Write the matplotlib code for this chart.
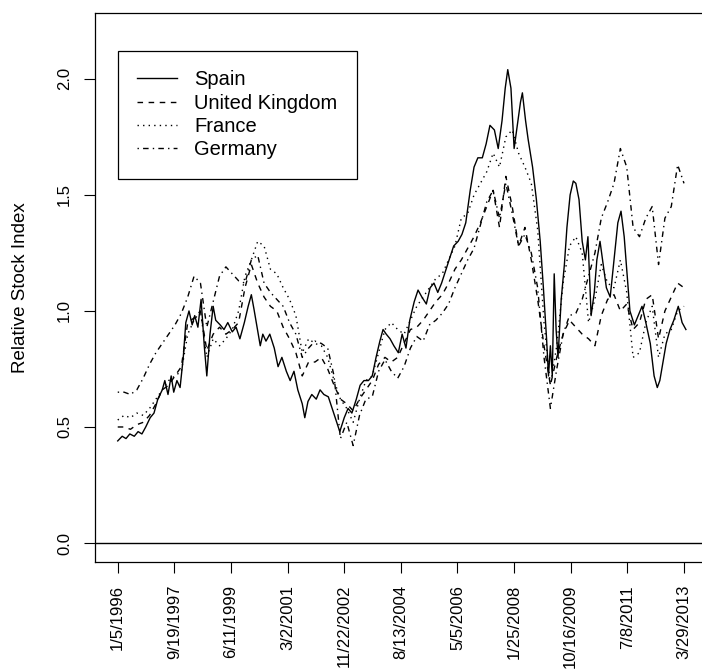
import numpy as np
import matplotlib.pyplot as plt

plt.rcParams['font.family'] = ['Liberation Sans', 'DejaVu Sans']

# week index (1 = week of 1/5/1996) used as the x axis
tick_weeks = [1, 90, 179, 268, 357, 446, 535, 624, 713, 802, 891]
tick_labels = ['1/5/1996', '9/19/1997', '6/11/1999', '3/2/2001', '11/22/2002',
               '8/13/2004', '5/5/2006', '1/25/2008', '10/16/2009', '7/8/2011',
               '3/29/2013']

# Spain, read at its turning points
spain_weeks = [1, 8, 14, 20, 27, 33, 39, 45, 52, 58, 64, 71, 75, 80, 85, 89, 94, 99,
               104, 108, 113, 118, 122, 127, 132, 137, 141, 146, 151, 155, 162, 168,
               174, 181, 187, 193, 200, 206, 211, 215, 220, 225, 229, 234, 240, 247,
               253, 259, 266, 272, 278, 284, 291, 295, 300, 306, 313, 319, 325, 332,
               338, 344, 350, 357, 363, 369, 376, 382, 388, 395, 401, 407, 413, 418,
               423, 429, 435, 442, 448, 454, 460, 467, 473, 479, 486, 492, 498, 504,
               510, 517, 523, 529, 536, 542, 548, 555, 561, 567, 574, 580, 586, 593,
               599, 605, 610, 614, 619, 624, 629, 634, 637, 642, 646, 653, 659, 665,
               670, 675, 678, 681, 684, 687, 690, 693, 698, 703, 707, 712, 717, 721,
               726, 731, 736, 740, 745, 750, 754, 759, 764, 769, 775, 781, 787, 792,
               797, 801, 806, 813, 819, 825, 831, 838, 844, 849, 853, 858, 863, 869,
               875, 882, 888, 894]
spain = [0.44, 0.46, 0.45, 0.47, 0.46, 0.48, 0.47, 0.50, 0.54, 0.56, 0.62, 0.66, 0.70,
         0.64, 0.72, 0.65, 0.70, 0.67, 0.80, 0.95, 1.00, 0.94, 0.98, 0.93, 1.05, 0.85,
         0.72, 0.90, 1.02, 0.96, 0.94, 0.92, 0.95, 0.91, 0.93, 0.88, 0.95, 1.02, 1.07,
         1.01, 0.93, 0.85, 0.90, 0.87, 0.90, 0.84, 0.76, 0.80, 0.74, 0.70, 0.74, 0.66,
         0.60, 0.54, 0.61, 0.64, 0.62, 0.66, 0.64, 0.63, 0.58, 0.53, 0.48, 0.54, 0.58,
         0.56, 0.62, 0.68, 0.70, 0.70, 0.72, 0.80, 0.87, 0.92, 0.90, 0.88, 0.85, 0.82,
         0.90, 0.84, 0.96, 1.04, 1.09, 1.06, 1.03, 1.10, 1.12, 1.08, 1.12, 1.18, 1.23,
         1.28, 1.30, 1.33, 1.38, 1.52, 1.62, 1.66, 1.66, 1.72, 1.80, 1.78, 1.70, 1.82,
         1.96, 2.04, 1.96, 1.70, 1.80, 1.90, 1.94, 1.82, 1.74, 1.62, 1.48, 1.30, 1.10,
         0.88, 0.72, 0.85, 0.72, 1.16, 0.92, 0.80, 1.05, 1.20, 1.36, 1.50, 1.56, 1.55,
         1.48, 1.30, 1.22, 1.32, 0.98, 1.08, 1.22, 1.30, 1.20, 1.10, 1.06, 1.22, 1.38,
         1.43, 1.32, 1.18, 1.00, 0.94, 0.98, 1.02, 0.95, 0.86, 0.72, 0.67, 0.70, 0.78,
         0.86, 0.92, 0.96, 1.02, 0.95, 0.92]

# the other three indices, every 10 weeks
weeks = np.arange(1, 892, 10)
uk = [0.50, 0.50, 0.49, 0.51, 0.52, 0.55, 0.60, 0.66, 0.68, 0.72, 0.76, 0.95, 0.97,
      1.00, 0.83, 0.90, 0.93, 0.90, 0.92, 0.95, 1.10, 1.20, 1.12, 1.06, 1.02, 1.00,
      0.93, 0.88, 0.82, 0.72, 0.78, 0.78, 0.80, 0.75, 0.68, 0.62, 0.60, 0.57, 0.62,
      0.66, 0.70, 0.77, 0.80, 0.78, 0.80, 0.86, 0.92, 0.93, 0.96, 1.00, 1.04, 1.07,
      1.12, 1.18, 1.22, 1.27, 1.32, 1.38, 1.45, 1.52, 1.36, 1.58, 1.45, 1.28, 1.36,
      1.22, 1.05, 0.85, 0.68, 0.80, 0.90, 0.96, 0.93, 0.90, 0.88, 0.85, 0.98, 1.05,
      1.07, 1.00, 1.03, 0.92, 0.95, 1.05, 1.07, 0.88, 1.00, 1.06, 1.12, 1.10]
france = [0.53, 0.55, 0.54, 0.56, 0.55, 0.58, 0.62, 0.66, 0.70, 0.72, 0.74, 0.90, 0.96,
          1.00, 0.80, 0.88, 0.85, 0.88, 0.92, 1.00, 1.15, 1.22, 1.30, 1.28, 1.18, 1.16,
          1.10, 1.05, 0.98, 0.82, 0.88, 0.86, 0.85, 0.80, 0.70, 0.62, 0.58, 0.52, 0.62,
          0.70, 0.72, 0.82, 0.92, 0.95, 0.92, 0.90, 0.96, 1.02, 1.06, 1.10, 1.14, 1.16,
          1.22, 1.28, 1.40, 1.42, 1.50, 1.55, 1.60, 1.68, 1.62, 1.75, 1.78, 1.68, 1.62,
          1.55, 1.35, 0.95, 0.68, 0.85, 1.12, 1.28, 1.32, 1.25, 0.95, 1.05, 1.20, 1.12,
          1.10, 1.22, 1.08, 0.80, 0.82, 0.95, 1.02, 0.80, 0.90, 0.92, 1.00, 1.02]
germany = [0.65, 0.65, 0.64, 0.66, 0.71, 0.77, 0.82, 0.86, 0.90, 0.94, 0.99, 1.06, 1.15,
           1.12, 0.93, 1.04, 1.15, 1.19, 1.16, 1.13, 1.12, 1.22, 1.24, 1.12, 1.08, 1.05,
           1.02, 0.95, 0.90, 0.80, 0.84, 0.87, 0.86, 0.84, 0.72, 0.45, 0.52, 0.42, 0.55,
           0.62, 0.63, 0.74, 0.79, 0.74, 0.71, 0.76, 0.84, 0.89, 0.87, 0.94, 0.96, 0.99,
           1.03, 1.10, 1.16, 1.22, 1.27, 1.37, 1.47, 1.52, 1.40, 1.55, 1.42, 1.28, 1.33,
           1.25, 1.10, 0.80, 0.58, 0.75, 0.90, 0.98, 0.99, 1.05, 1.15, 1.25, 1.40, 1.47,
           1.55, 1.70, 1.62, 1.36, 1.32, 1.40, 1.45, 1.20, 1.40, 1.45, 1.63, 1.55]

fig = plt.figure(figsize=(7.02, 6.71), dpi=100)
ax = fig.add_axes([0.1353, 0.1624, 0.8751, 0.8182])

lw = 1.0
ax.plot(spain_weeks, spain, color='black', lw=lw, label='Spain')
ax.plot(weeks, uk, color='black', lw=lw, dashes=(4, 4), label='United Kingdom')
ax.plot(weeks, france, color='black', lw=lw, dashes=(1, 3), label='France')
ax.plot(weeks, germany, color='black', lw=lw, dashes=(1, 3, 4, 3), label='Germany')
ax.axhline(0, color='black', lw=lw)

ax.set_xlim(1 - 0.04 * 894, 895 + 0.04 * 894)
ax.set_ylim(-0.082, 2.284)

ax.set_xticks(tick_weeks)
ax.set_xticklabels(tick_labels, rotation=90, fontsize=12)
ax.set_yticks([0, 0.5, 1.0, 1.5, 2.0])
ax.set_yticklabels(['0.0', '0.5', '1.0', '1.5', '2.0'], rotation=90,
                   va='center', fontsize=12)
ax.tick_params(length=8, width=0.8, pad=8.5, color='black')

ax.set_ylabel('Relative Stock Index', fontsize=13.5)
ax.yaxis.set_label_coords(-0.107, 0.5)

for s in ax.spines.values():
    s.set_linewidth(0.9)

leg = ax.legend(loc='upper left', bbox_to_anchor=(0.0374, 0.9308), borderaxespad=0,
                fontsize=14.5, frameon=True, fancybox=False, framealpha=1,
                edgecolor='black', borderpad=0.95, handlelength=2.0,
                handletextpad=0.85, labelspacing=0.22)
leg.get_frame().set_linewidth(0.9)

plt.savefig('out.png', dpi=100)
